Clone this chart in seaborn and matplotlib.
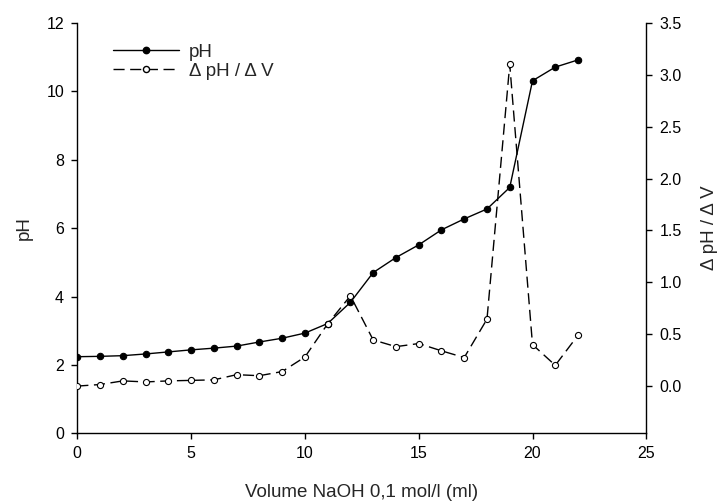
import matplotlib
matplotlib.use("Agg")
import matplotlib.pyplot as plt
import seaborn as sns
import pandas as pd
from matplotlib.lines import Line2D

volume = [0, 1, 2, 3, 4, 5, 6, 7, 8, 9, 10, 11, 12, 13, 14, 15, 16, 17, 18, 19, 20, 21, 22]
ph = [2.24, 2.25, 2.27, 2.32, 2.38, 2.44, 2.49, 2.55, 2.67, 2.78, 2.93, 3.21, 3.83,
      4.70, 5.14, 5.51, 5.95, 6.27, 6.56, 7.19, 10.31, 10.71, 10.92]
dph_dv = [0.00, 0.015, 0.05, 0.04, 0.05, 0.055, 0.06, 0.11, 0.10, 0.14, 0.28, 0.60, 0.87,
          0.445, 0.38, 0.41, 0.34, 0.275, 0.645, 3.10, 0.40, 0.20, 0.49]

df = pd.DataFrame({"volume": volume, "ph": ph, "dph": dph_dv})

sns.set_style("ticks")
plt.rcParams["font.family"] = ["Liberation Sans", "DejaVu Sans"]

fig = plt.figure(figsize=(7.21, 5.03), dpi=100)
ax = fig.add_axes([0.1072, 0.1386, 0.7892, 0.8157])
ax2 = ax.twinx()

sns.lineplot(data=df, x="volume", y="ph", ax=ax, color="black", lw=1.0,
             marker="o", markersize=4.6, markerfacecolor="black",
             markeredgecolor="black", markeredgewidth=0.8)
sns.lineplot(data=df, x="volume", y="dph", ax=ax2, color="black", lw=1.0,
             marker="o", markersize=4.4, markerfacecolor="white",
             markeredgecolor="black", markeredgewidth=0.8)
for l in ax2.lines:
    l.set_dashes((8, 4))

ax.set_xlim(0, 25)
ax.set_ylim(0, 12)
ax2.set_ylim(-0.455, 3.5)
ax.set_xticks([0, 5, 10, 15, 20, 25])
ax.set_yticks([0, 2, 4, 6, 8, 10, 12])
ax2.set_yticks([0.0, 0.5, 1.0, 1.5, 2.0, 2.5, 3.0, 3.5])
ax2.set_yticklabels(["0.0", "0.5", "1.0", "1.5", "2.0", "2.5", "3.0", "3.5"])

for a in (ax, ax2):
    a.spines["top"].set_visible(False)
    for s in a.spines.values():
        s.set_linewidth(1.0)
        s.set_color("black")
    a.tick_params(direction="out", length=4.5, width=1.0, colors="black",
                  labelsize=11.5, pad=5)
ax.spines["right"].set_visible(False)
ax2.spines["left"].set_visible(False)
ax2.spines["bottom"].set_visible(False)

ax.set_xlabel("Volume NaOH 0,1 mol/l (ml)", fontsize=13.5, labelpad=16)
ax.set_ylabel("pH", fontsize=13.5, labelpad=10)
ax2.set_ylabel("Δ pH / Δ V", fontsize=13.5, labelpad=14)

handles = [
    Line2D([], [], color="black", lw=1.0, marker="o", markersize=4.6,
           markerfacecolor="black", markeredgecolor="black"),
    Line2D([], [], color="black", lw=1.0, marker="o", markersize=4.4,
           markerfacecolor="white", markeredgecolor="black", dashes=(8, 4)),
]
ax.legend(handles, ["pH", "Δ pH / Δ V"], loc="upper left",
          bbox_to_anchor=(0.0627, 0.95), frameon=False, fontsize=13.5,
          handlelength=3.5, handletextpad=0.55, labelspacing=0.12, numpoints=1,
          borderpad=0, borderaxespad=0)

fig.savefig("out.png", dpi=100)
